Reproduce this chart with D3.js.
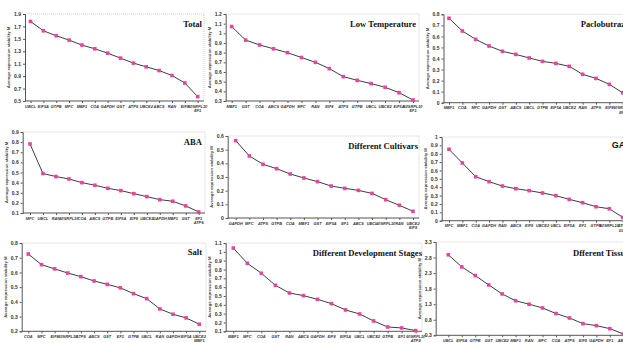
<!DOCTYPE html>
<html>
<head>
<meta charset="utf-8">
<script src="https://cdn.jsdelivr.net/npm/d3@7"></script>
<style>
  body { margin: 0; background: #fff; }
  svg { display: block; }
</style>
</head>
<body>
<div class="chart"></div>
<script>
// gene order and M values for each treatment
var totalGenes = ["UBCL", "EIF5A", "GTPB", "MFC", "MBF1", "COA", "GAPDH", "GST", "ATPS", "UBCE2", "ABCS", "RAN", "EIF8", "60SRPL10/EF1"];
var totalValues = [1.78, 1.63, 1.55, 1.48, 1.40, 1.34, 1.27, 1.19, 1.11, 1.05, 0.99, 0.91, 0.79, 0.57];
var totalTicks = [0.5, 0.7, 0.9, 1.1, 1.3, 1.5, 1.7, 1.9];

var lowGenes = ["MBF1", "GST", "COA", "ABCS", "GAPDH", "MFC", "RAN", "EIF8", "ATPS", "GTPB", "UBCL", "UBCE2", "EIF5A", "60SRPL10/EF1"];
var lowValues = [1.07, 0.93, 0.88, 0.84, 0.80, 0.75, 0.70, 0.635, 0.552, 0.514, 0.48, 0.442, 0.386, 0.31];
var lowTicks = [0.3, 0.4, 0.5, 0.6, 0.7, 0.8, 0.9, 1, 1.1, 1.2];

var pacloGenes = ["MBF1", "COA", "MFC", "GAPDH", "GST", "ABCS", "UBCL", "GTPB", "EIF5A", "UBCE2", "RAN", "ATPS", "EIF8", "60SRPL10/EF1"];
var pacloValues = [0.764, 0.649, 0.573, 0.513, 0.465, 0.437, 0.405, 0.374, 0.356, 0.329, 0.257, 0.22, 0.166, 0.09];
var pacloTicks = [0, 0.1, 0.2, 0.3, 0.4, 0.5, 0.6, 0.7, 0.8];

var abaGenes = ["MFC", "UBCL", "RAN", "60SRPL10", "COA", "ABCS", "GTPB", "EIF5A", "EIF8", "UBCE2", "GAPDH", "MBF1", "GST", "EF1/ATPS"];
var abaValues = [0.782, 0.49, 0.46, 0.436, 0.40, 0.374, 0.344, 0.321, 0.291, 0.262, 0.232, 0.216, 0.17, 0.11];
var abaTicks = [0.1, 0.2, 0.3, 0.4, 0.5, 0.6, 0.7, 0.8, 0.9];

var cultGenes = ["GAPDH", "MFC", "ATPS", "GTPB", "COA", "MBF1", "GST", "EIF5A", "EF1", "ABCS", "UBCL", "60SRPL10", "RAN", "UBCE2/EIF8"];
var cultValues = [0.566, 0.454, 0.393, 0.361, 0.322, 0.293, 0.266, 0.234, 0.217, 0.202, 0.18, 0.134, 0.093, 0.049];
var cultTicks = [0, 0.1, 0.2, 0.3, 0.4, 0.5, 0.6];

var gaGenes = ["MFC", "MBF1", "COA", "GAPDH", "RAN", "ABCS", "EIF8", "UBCE2", "UBCL", "EIF5A", "EF1", "GTPB", "60SRPL10", "ATPS/GST"];
var gaValues = [0.853, 0.689, 0.526, 0.466, 0.414, 0.382, 0.359, 0.331, 0.299, 0.255, 0.215, 0.167, 0.143, 0.04];
var gaTicks = [0, 0.1, 0.2, 0.3, 0.4, 0.5, 0.6, 0.7, 0.8, 0.9, 1];

var saltGenes = ["COA", "MFC", "EIF8", "60SRPL10", "ATPS", "ABCS", "GST", "EF1", "GTPB", "UBCL", "RAN", "GAPDH", "EIF5A", "UBCE2/MBF1"];
var saltValues = [0.725, 0.653, 0.624, 0.596, 0.571, 0.542, 0.519, 0.495, 0.456, 0.422, 0.352, 0.316, 0.291, 0.248];
var saltTicks = [0.2, 0.3, 0.4, 0.5, 0.6, 0.7, 0.8];

var devGenes = ["MBF1", "MFC", "COA", "GST", "RAN", "ABCS", "GAPDH", "EIF8", "EIF5A", "UBCL", "UBCE2", "GTPB", "EF1", "60SRPL10/ATPS"];
var devValues = [1.043, 0.87, 0.757, 0.621, 0.534, 0.504, 0.462, 0.413, 0.342, 0.296, 0.217, 0.149, 0.138, 0.108];
var devTicks = [0.1, 0.2, 0.3, 0.4, 0.5, 0.6, 0.7, 0.8, 0.9, 1, 1.1];

var tissueGenes = ["UBCL", "EIF5A", "GTPB", "GST", "UBCE2", "MBF1", "RAN", "MFC", "COA", "ATPS", "EIF8", "GAPDH", "EF1", "ABCS/60SRPL10"];
var tissueValues = [2.89, 2.50, 2.22, 1.92, 1.63, 1.41, 1.30, 1.18, 1.0, 0.857, 0.675, 0.61, 0.514, 0.343];
var tissueTicks = [0.3, 0.8, 1.3, 1.8, 2.3, 2.8, 3.3];

var titles = ["Total", "Low Temperature", "Paclobutrazol", "ABA", "Different Cultivars", "GA", "Salt", "Different Development Stages", "Dfferent Tissues"];

var svgWidth = 623;
var svgHeight = 343;

// where each small panel sits on the page
var layout = [
  { left: 25,    right: 204, top: 14,   bottom: 101,   x0: 30.5,  x1: 197.7, tx: 202,   ty: 26.5,  anchor: "end" },
  { left: 225.7, right: 419, top: 14,   bottom: 101,   x0: 231.7, x1: 413,   tx: 416,   ty: 26.5,  anchor: "end" },
  { left: 443.5, right: 640, top: 14.3, bottom: 102.7, x0: 449,   x1: 622.7, tx: 580.7, ty: 26.5,  anchor: "start" },
  { left: 22.7,  right: 205, top: 132,  bottom: 213,   x0: 30,    x1: 198.7, tx: 202,   ty: 144.5, anchor: "end" },
  { left: 227.7, right: 419, top: 136,  bottom: 218,   x0: 235.7, x1: 413,   tx: 418,   ty: 148.5, anchor: "end" },
  { left: 441.7, right: 640, top: 137,  bottom: 220.7, x0: 449,   x1: 622.7, tx: 611.7, ty: 148,   anchor: "start", sans: true },
  { left: 21.7,  right: 206, top: 243,  bottom: 331.3, x0: 28.3,  x1: 199.3, tx: 202,   ty: 254.5, anchor: "end" },
  { left: 225.7, right: 422, top: 243,  bottom: 331.3, x0: 233.3, x1: 415.7, tx: 422,   ty: 256,   anchor: "end" },
  { left: 435.7, right: 640, top: 242,  bottom: 335.3, x0: 448.3, x1: 623.3, tx: 573,   ty: 256,   anchor: "start" }
];

var panels = [
  [totalGenes, totalValues, totalTicks],
  [lowGenes, lowValues, lowTicks],
  [pacloGenes, pacloValues, pacloTicks],
  [abaGenes, abaValues, abaTicks],
  [cultGenes, cultValues, cultTicks],
  [gaGenes, gaValues, gaTicks],
  [saltGenes, saltValues, saltTicks],
  [devGenes, devValues, devTicks],
  [tissueGenes, tissueValues, tissueTicks]
];

var svg = d3.select(".chart")
  .append("svg")
    .attr("width", svgWidth)
    .attr("height", svgHeight);

var fmt = function(v) { return String(+v.toFixed(1)); };

panels.forEach(function(p, i) {
  var genes = p[0], values = p[1], ticks = p[2];
  var L = layout[i];
  var g = svg.append("g");

  var xScale = d3.scalePoint().domain(genes).range([L.x0, L.x1]);
  var yScale = d3.scaleLinear()
    .domain([ticks[0], ticks[ticks.length - 1]])
    .range([L.bottom, L.top]);

  // dotted frame on top and right
  g.append("path")
    .attr("d", "M" + L.left + "," + L.top + "H" + L.right + "V" + L.bottom)
    .attr("fill", "none")
    .attr("stroke", "#b8b8b8")
    .attr("stroke-width", 0.7)
    .attr("stroke-dasharray", "1,1");

  // y axis
  var leftAxis = d3.axisLeft(yScale).tickValues(ticks).tickFormat(fmt).tickSize(2).tickPadding(2);
  var ya = g.append("g")
    .attr("transform", "translate(" + L.left + ",0)")
    .call(leftAxis);
  ya.select(".domain").attr("stroke", "#555");
  ya.selectAll(".tick line").attr("stroke", "#555");
  ya.selectAll("text")
    .attr("font-family", "Arial, 'Liberation Sans', sans-serif")
    .attr("font-weight", "bold")
    .attr("font-size", "5px")
    .attr("fill", "#333");

  // x axis, labels drawn by hand so two-line names work
  var bottomAxis = d3.axisBottom(xScale).tickSize(2).tickFormat("");
  var xa = g.append("g")
    .attr("transform", "translate(0," + L.bottom + ")")
    .call(bottomAxis);
  xa.select(".domain").attr("stroke", "#555").attr("d", "M" + L.left + ",0H" + L.right);
  xa.selectAll(".tick line").attr("stroke", "#555");

  var labels = g.selectAll(".xlab")
    .data(genes)
    .enter().append("text")
    .attr("class", "xlab")
    .attr("x", function(d) { return xScale(d); })
    .attr("y", L.bottom + 6.5)
    .attr("text-anchor", "middle")
    .attr("font-family", "Arial, 'Liberation Sans', sans-serif")
    .attr("font-weight", "bold")
    .attr("font-style", "italic")
    .attr("font-size", "3.9px")
    .attr("fill", "#333");
  labels.each(function(d) {
    var parts = d.split("/");
    var t = d3.select(this);
    parts.forEach(function(s, k) {
      t.append("tspan")
        .attr("x", xScale(d))
        .attr("dy", k === 0 ? 0 : 4.6)
        .text(s);
    });
  });

  // y axis title
  g.append("text")
    .attr("transform", "translate(" + (L.left - 15) + "," + ((L.top + L.bottom) / 2) + ") rotate(-90)")
    .attr("text-anchor", "middle")
    .attr("font-family", "Arial, 'Liberation Sans', sans-serif")
    .attr("font-weight", "bold")
    .attr("font-size", "4.2px")
    .attr("fill", "#444")
    .text("Average expression stability M");

  // line + markers
  var line = d3.line()
    .x(function(d, k) { return xScale(genes[k]); })
    .y(function(d) { return yScale(d); });

  g.append("path")
    .datum(values)
    .attr("d", line)
    .attr("fill", "none")
    .attr("stroke", "#3d3d3d")
    .attr("stroke-width", 1);

  g.selectAll(".pt")
    .data(values)
    .enter().append("rect")
    .attr("class", "pt")
    .attr("x", function(d, k) { return xScale(genes[k]) - 1.8; })
    .attr("y", function(d) { return yScale(d) - 1.8; })
    .attr("width", 3.6)
    .attr("height", 3.6)
    .attr("fill", "#e8449e");

  // panel title
  g.append("text")
    .attr("x", L.tx)
    .attr("y", L.ty)
    .attr("text-anchor", L.anchor)
    .attr("font-family", L.sans ? "Arial, 'Liberation Sans', sans-serif" : "'Times New Roman', 'Liberation Serif', serif")
    .attr("font-weight", "bold")
    .attr("font-size", L.sans ? "9px" : "8.6px")
    .attr("fill", "#111")
    .text(titles[i]);
});
</script>
</body>
</html>
